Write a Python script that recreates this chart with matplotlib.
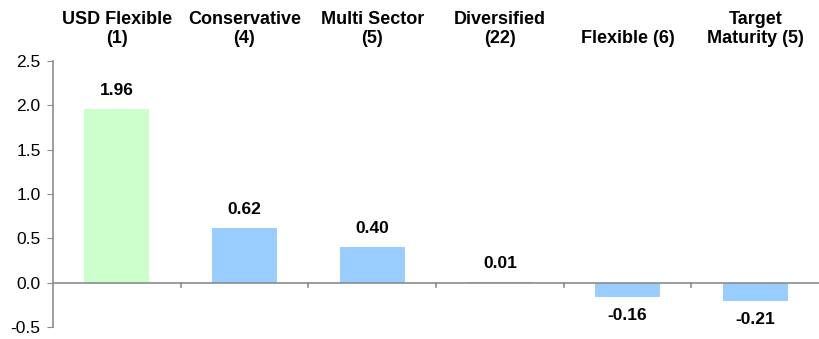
import matplotlib.pyplot as plt

plt.rcParams["font.family"] = ["Liberation Sans", "DejaVu Sans"]

categories = ["USD Flexible\n(1)", "Conservative\n(4)", "Multi Sector\n(5)",
              "Diversified\n(22)", "Flexible (6)", "Target\nMaturity (5)"]
values = [1.96, 0.62, 0.40, 0.01, -0.16, -0.21]
colors = ["#CCFFCC", "#99CCFF", "#99CCFF", "#99CCFF", "#99CCFF", "#99CCFF"]

fig = plt.figure(figsize=(8.19, 3.39), dpi=100)
ax = fig.add_axes([53 / 819, 1 - 327 / 339, 766 / 819, 266 / 339])

x = list(range(len(values)))
ax.bar(x, values, width=0.51, color=colors)

ax.set_xlim(-0.5, len(values) - 0.5)
ax.set_ylim(-0.5, 2.5)
ax.set_yticks([-0.5, 0.0, 0.5, 1.0, 1.5, 2.0, 2.5])
ax.set_yticklabels(["-0.5", "0.0", "0.5", "1.0", "1.5", "2.0", "2.5"])
ax.tick_params(axis="y", labelsize=12.5, length=4, color="#8c8c8c", pad=5)
ax.set_xticks([])

for s in ["top", "right", "bottom"]:
    ax.spines[s].set_visible(False)
ax.spines["left"].set_color("#8c8c8c")
ax.spines["left"].set_linewidth(1.2)

# zero line with small separators between categories
ax.axhline(0, color="#8c8c8c", lw=1.2)
for b in range(1, len(values)):
    ax.plot([b - 0.5, b - 0.5], [0, -0.045], color="#8c8c8c", lw=1.2,
            clip_on=False)

for i, v in enumerate(values):
    if v >= 0:
        ax.annotate(f"{v:.2f}", (i, v), xytext=(0, 8), textcoords="offset points",
                    ha="center", va="bottom", fontsize=12.5, fontweight="bold")
    else:
        ax.annotate(f"{v:.2f}", (i, v), xytext=(0, -8), textcoords="offset points",
                    ha="center", va="top", fontsize=12.5, fontweight="bold")

for i, c in enumerate(categories):
    ax.annotate(c, (i, 2.5), xytext=(0, 10), textcoords="offset points",
                ha="center", va="bottom", fontsize=13, fontweight="bold",
                linespacing=1.15, annotation_clip=False)

fig.savefig("out.png", dpi=100)
